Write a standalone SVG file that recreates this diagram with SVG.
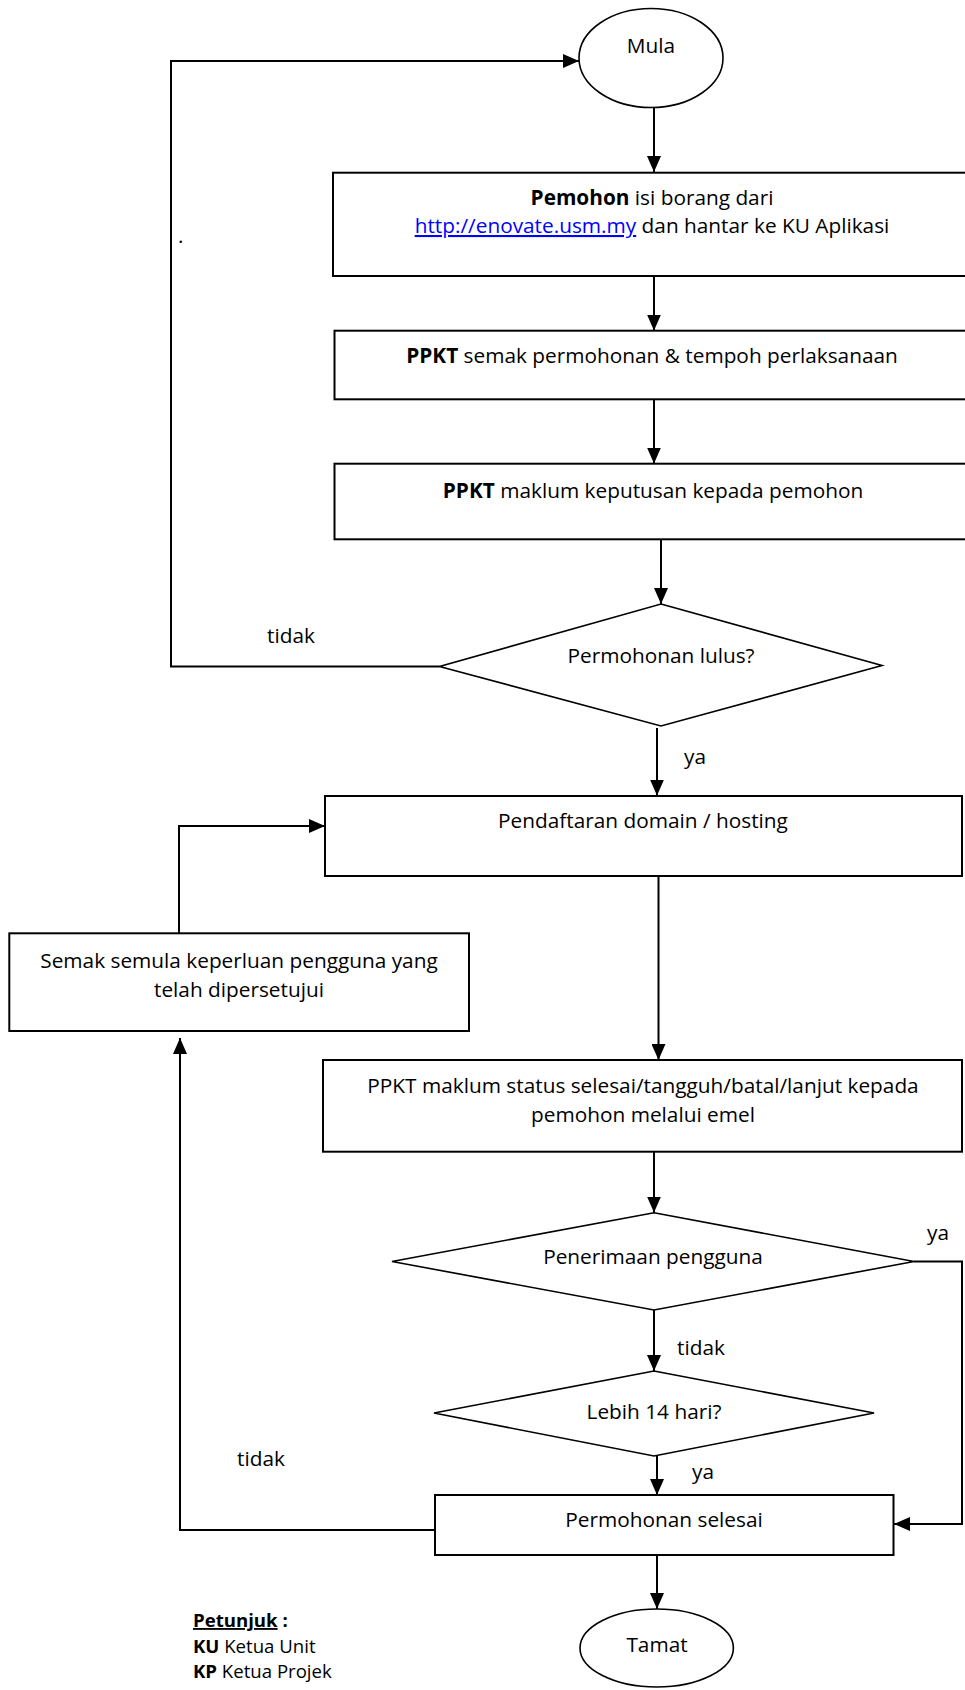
<svg xmlns="http://www.w3.org/2000/svg" width="965" height="1690" viewBox="0 0 965 1690">
<style>
.box{fill:#fff;stroke:#000;stroke-width:2}
.shape{fill:#fff;stroke:#000;stroke-width:1.6}
.conn{fill:none;stroke:#000;stroke-width:2}
.t{font-family:"Open Sans","Liberation Sans",sans-serif;font-size:20.8px;fill:#000}
.c{text-anchor:middle}
.b{font-weight:bold}
.lg{font-family:"Open Sans","Liberation Sans",sans-serif;font-size:18.6px;fill:#000}
.link{fill:#0000ff;text-decoration:underline}
</style>
<defs>
<marker id="arr" markerUnits="userSpaceOnUse" markerWidth="16" markerHeight="14" refX="16" refY="7" orient="auto">
<path d="M0,0 L16,7 L0,14 z" fill="#000"/>
</marker>
</defs>
<rect width="965" height="1690" fill="#fff"/>

<g id="connectors">
<polyline class="conn" points="439.5,666.5 171,666.5 171,61 579,61" marker-end="url(#arr)"/>
<line class="conn" x1="654" y1="107.5" x2="654" y2="172" marker-end="url(#arr)"/>
<line class="conn" x1="654" y1="276" x2="654" y2="330.5" marker-end="url(#arr)"/>
<line class="conn" x1="654" y1="399.5" x2="654" y2="463.5" marker-end="url(#arr)"/>
<line class="conn" x1="661" y1="539.5" x2="661" y2="604" marker-end="url(#arr)"/>
<line class="conn" x1="657" y1="728" x2="657" y2="795.5" marker-end="url(#arr)"/>
<polyline class="conn" points="179,933 179,826 325,826" marker-end="url(#arr)"/>
<line class="conn" x1="658.5" y1="876" x2="658.5" y2="1060" marker-end="url(#arr)"/>
<line class="conn" x1="654" y1="1152" x2="654" y2="1212.5" marker-end="url(#arr)"/>
<polyline class="conn" points="914,1261.5 962,1261.5 962,1524 894,1524" marker-end="url(#arr)"/>
<line class="conn" x1="654" y1="1310" x2="654" y2="1371" marker-end="url(#arr)"/>
<line class="conn" x1="657" y1="1456" x2="657" y2="1495" marker-end="url(#arr)"/>
<polyline class="conn" points="435,1530 180,1530 180,1038" marker-end="url(#arr)"/>
<line class="conn" x1="657" y1="1555" x2="657" y2="1609" marker-end="url(#arr)"/>
</g>

<g id="labels">
<text class="t" x="267" y="643">tidak</text>
<text class="t" x="684" y="764">ya</text>
<text class="t" x="927" y="1240">ya</text>
<text class="t" x="677" y="1355">tidak</text>
<text class="t" x="692" y="1479">ya</text>
<text class="t" x="237" y="1466">tidak</text>
<text class="t" x="178" y="243">.</text>
</g>

<g id="mula">
<ellipse class="shape" cx="651" cy="58" rx="72" ry="49.5"/>
<text class="t c" x="651" y="53">Mula</text>
</g>

<g id="isi-borang">
<rect class="box" x="333" y="172.7" width="640" height="103.3"/>
<text class="t c" x="652" y="205"><tspan class="b">Pemohon</tspan> isi borang dari</text>
<text class="t c" x="652" y="233"><tspan class="link">http://enovate.usm.my</tspan> dan hantar ke KU Aplikasi</text>
</g>

<g id="ppkt-semak">
<rect class="box" x="334.5" y="330.7" width="640" height="68.6"/>
<text class="t c" x="652" y="363"><tspan class="b">PPKT</tspan> semak permohonan &amp; tempoh perlaksanaan</text>
</g>

<g id="ppkt-maklum">
<rect class="box" x="334.5" y="463.7" width="640" height="75.6"/>
<text class="t c" x="653" y="498"><tspan class="b">PPKT</tspan> maklum keputusan kepada pemohon</text>
</g>

<g id="lulus">
<polygon class="shape" points="661,604 882,665.5 661,726 439.5,666.5"/>
<text class="t c" x="661" y="663">Permohonan lulus?</text>
</g>

<g id="pendaftaran">
<rect class="box" x="325" y="796" width="637" height="80"/>
<text class="t c" x="643" y="828">Pendaftaran domain / hosting</text>
</g>

<g id="semak-semula">
<rect class="box" x="9.3" y="933.3" width="459.7" height="97.7"/>
<text class="t c" x="239" y="968">Semak semula keperluan pengguna yang</text>
<text class="t c" x="239" y="997">telah dipersetujui</text>
</g>

<g id="maklum-status">
<rect class="box" x="323" y="1060" width="639" height="91.7"/>
<text class="t c" x="643" y="1093">PPKT maklum status selesai/tangguh/batal/lanjut kepada</text>
<text class="t c" x="643" y="1122">pemohon melalui emel</text>
</g>

<g id="penerimaan">
<polygon class="shape" points="654,1212.7 914,1261.5 654,1310 392,1261.5"/>
<text class="t c" x="653" y="1264">Penerimaan pengguna</text>
</g>

<g id="lebih-14">
<polygon class="shape" points="654,1371 874,1413 654,1456 434,1413"/>
<text class="t c" x="654" y="1419">Lebih 14 hari?</text>
</g>

<g id="selesai">
<rect class="box" x="435" y="1495" width="458.5" height="60"/>
<text class="t c" x="664" y="1527">Permohonan selesai</text>
</g>

<g id="tamat">
<ellipse class="shape" cx="656.7" cy="1648" rx="76.7" ry="39"/>
<text class="t c" x="657" y="1652">Tamat</text>
</g>

<g id="petunjuk">
<text class="lg b" x="193" y="1627"><tspan text-decoration="underline">Petunjuk</tspan> :</text>
<text class="lg" x="193" y="1653"><tspan class="b">KU</tspan> Ketua Unit</text>
<text class="lg" x="193" y="1678"><tspan class="b">KP</tspan> Ketua Projek</text>
</g>
</svg>
